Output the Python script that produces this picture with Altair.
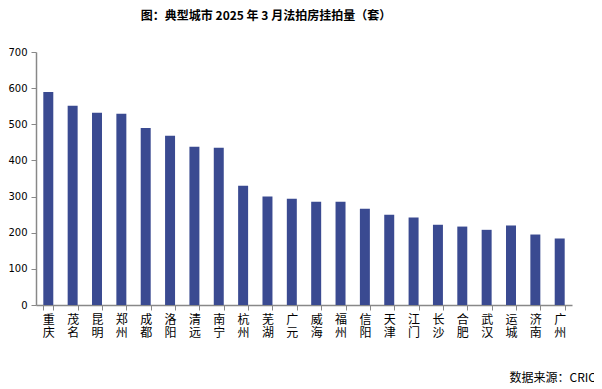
import altair as alt
import pandas as pd

cities = ["重庆", "茂名", "昆明", "郑州", "成都", "洛阳", "清远", "南宁", "杭州", "芜湖", "广元",
          "威海", "福州", "信阳", "天津", "江门", "长沙", "合肥", "武汉", "运城", "济南", "广州"]
counts = [589, 551, 532, 529, 490, 468, 438, 435, 330, 300, 294,
          286, 286, 266, 250, 242, 222, 217, 208, 220, 195, 184]
title_text = "图：典型城市 2025 年 3 月法拍房挂拍量（套）"
source_text = "数据来源：CRIC"
y_ticks = [0, 100, 200, 300, 400, 500, 600, 700]

df = pd.DataFrame({"city": cities, "count": counts})

bars = alt.Chart(df).mark_bar(color="#3A4A91").encode(
    x=alt.X("city:N", sort=cities, title=None,
            scale=alt.Scale(paddingInner=0.59, paddingOuter=0.3),
            axis=alt.Axis(labelAngle=0, tickBand="extent", labelExpr="split(datum.label, '')",
                          labelFont="Noto Sans CJK SC", labelFontSize=12, labelLineHeight=13,
                          labelColor="#000000", labelPadding=4, tickSize=5,
                          domainColor="#888888", tickColor="#888888", domainWidth=1.5)),
    y=alt.Y("count:Q", title=None,
            scale=alt.Scale(domain=[0, 700], nice=False),
            axis=alt.Axis(values=y_ticks, grid=False, labelFont="DejaVu Sans", labelFontSize=10,
                          labelColor="#000000", tickSize=5, labelPadding=4,
                          domainColor="#888888", tickColor="#888888", domainWidth=1.5)),
)

ttl = alt.Chart(pd.DataFrame({"t": [title_text]})).mark_text(
    align="center", baseline="middle", font="Noto Sans CJK SC", fontSize=12,
    fontWeight="bold", color="#000000"
).encode(text="t:N", x=alt.value(230), y=alt.value(-36))

src = alt.Chart(pd.DataFrame({"t": [source_text]})).mark_text(
    align="right", baseline="middle", font="Noto Sans CJK SC", fontSize=12, color="#000000"
).encode(text="t:N", x=alt.value(560), y=alt.value(326))

chart = alt.layer(bars, ttl, src).properties(
    width=536, height=253,
    autosize=alt.AutoSizeParams(type="none"),
    padding={"left": 28, "top": 44, "right": 22, "bottom": 82},
).configure_view(stroke=None)

chart.save("out.html", embed_options={"renderer": "svg", "actions": False})
